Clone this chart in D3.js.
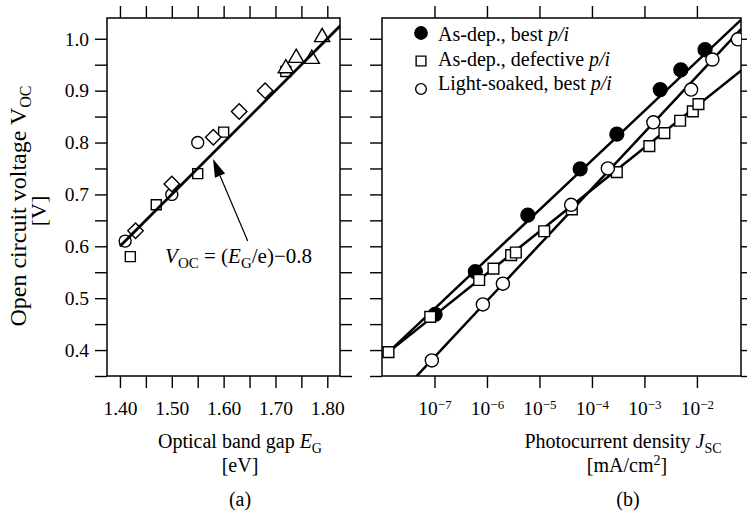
<!DOCTYPE html>
<html>
<head>
<meta charset="utf-8">
<script src="https://cdn.jsdelivr.net/npm/d3@7"></script>
<style>
  body { margin: 0; background: #fff; }
  text { font-family: "Liberation Serif", "Times New Roman", serif; fill: #000; }
</style>
</head>
<body>
<svg id="chart" width="747" height="512"></svg>
<script>
// (a) Voc vs optical band gap
var circEg = [1.41, 1.50, 1.55];
var circVoc = [0.61, 0.70, 0.80];
var sqEg = [1.42, 1.47, 1.55, 1.60, 1.72];
var sqVoc = [0.58, 0.68, 0.74, 0.82, 0.937];
var diaEg = [1.43, 1.50, 1.58, 1.63, 1.68];
var diaVoc = [0.63, 0.72, 0.81, 0.86, 0.90];
var triEg = [1.72, 1.74, 1.77, 1.79];
var triVoc = [0.943, 0.963, 0.961, 1.003];
var fitEg = [1.40, 1.83];          // Voc = Eg - 0.8
var fitOffset = 0.8;

// (b) Voc vs photocurrent density
var bestJ = [1.03e-7, 6.0e-7, 6.0e-6, 5.96e-5, 2.98e-4, 2.0e-3, 4.93e-3, 1.43e-2];
var bestVoc = [0.469, 0.551, 0.660, 0.749, 0.816, 0.902, 0.940, 0.979];
var defJ = [1.33e-8, 8.3e-8, 7.1e-7, 1.33e-6, 2.89e-6, 3.55e-6, 1.23e-5, 4.14e-5, 2.98e-4, 1.24e-3, 2.40e-3, 4.79e-3, 8.36e-3, 1.07e-2];
var defVoc = [0.396, 0.464, 0.535, 0.557, 0.583, 0.588, 0.629, 0.671, 0.743, 0.793, 0.818, 0.842, 0.860, 0.874];
var soakJ = [8.9e-8, 8.36e-7, 2.01e-6, 4.02e-5, 2.01e-4, 1.48e-3, 7.76e-3, 1.97e-2, 6.03e-2];
var soakVoc = [0.380, 0.488, 0.528, 0.680, 0.750, 0.839, 0.902, 0.960, 0.999];
var bestFitJ = [1.33e-8, 7.0e-2], bestFitVoc = [0.396, 1.037];
var defFitJ = [1.33e-8, 7.0e-2], defFitVoc = [0.396, 0.939];
var soakFitJ = [4.4e-8, 7.0e-2], soakFitVoc = [0.348, 1.019];

var yTicks = d3.range(7, 21).map(function(i) { return i * 0.05; });
var egTicks = d3.range(28, 37).map(function(i) { return i * 0.05; });
var jTicks = [1e-7, 1e-6, 1e-5, 1e-4, 1e-3, 1e-2];
var legendNames = ["As-dep., best ", "As-dep., defective ", "Light-soaked, best "];

var svg = d3.select("#chart");
var y = d3.scaleLinear().domain([0.35, 1.04]).range([376, 18]);
var xA = d3.scaleLinear().domain([1.375, 1.8245]).range([107, 340]);
var xB = d3.scaleLog().domain([1e-8, Math.pow(10, -1.16)]).range([382, 741]);

function zip(xs, ys) { return xs.map(function(d, i) { return [d, ys[i]]; }); }

// rich text: parts = [[text, style]] style: "i" italic, "sub", "sup"
function rich(sel, parts, subSize) {
  var shift = 0;
  parts.forEach(function(p) {
    var t = sel.append("tspan").text(p[0]);
    var want = (p[1] === "sub") ? 5 : (p[1] === "sup" ? -7 : 0);
    if (want !== shift) { t.attr("dy", want - shift); shift = want; }
    if (p[1] === "i") t.style("font-style", "italic");
    if (p[1] === "sub" || p[1] === "sup") t.style("font-size", subSize + "px");
  });
  return sel;
}

function frame(x0, x1, xScale, xTickVals, xFmt, yLabels) {
  var g = svg.append("g");
  var bottom = g.append("g").attr("transform", "translate(0,376)")
    .call(d3.axisBottom(xScale).tickValues(xTickVals).tickSize(12).tickPadding(13).tickFormat(xFmt));
  g.append("g").attr("transform", "translate(0,18)")
    .call(d3.axisTop(xScale).tickValues(xTickVals).tickSize(12).tickFormat(""));
  g.append("g").attr("transform", "translate(" + x0 + ",0)")
    .call(d3.axisLeft(y).tickValues(yTicks).tickSize(12).tickPadding(6)
      .tickFormat(function(d) { return yLabels && Math.round(d * 100) % 10 === 0 ? d.toFixed(1) : ""; }));
  g.append("g").attr("transform", "translate(" + x1 + ",0)")
    .call(d3.axisRight(y).tickValues(yTicks).tickSize(12).tickFormat(""));
  g.selectAll(".domain").remove();
  g.selectAll(".tick line").attr("stroke", "#000").attr("stroke-width", 1.4);
  g.selectAll(".tick text").attr("fill", "#000").style("font-size", "19.5px")
    .style("font-family", '"Liberation Serif", serif');
  g.append("rect").attr("x", x0).attr("y", 18).attr("width", x1 - x0).attr("height", 358)
    .attr("fill", "none").attr("stroke", "#000").attr("stroke-width", 1.5);
  return bottom;
}

function clip(id, x0, x1) {
  svg.append("clipPath").attr("id", id).append("rect")
    .attr("x", x0).attr("y", 18).attr("width", x1 - x0).attr("height", 358);
  return svg.append("g").attr("clip-path", "url(#" + id + ")");
}

function marks(g, pts, sx, type, size, fill, rot) {
  g.selectAll(null).data(pts).enter().append("path")
    .attr("d", d3.symbol().type(type).size(size))
    .attr("transform", function(d) {
      return "translate(" + sx(d[0]) + "," + y(d[1]) + ")" + (rot ? " rotate(" + rot + ")" : "");
    })
    .attr("fill", fill).attr("stroke", "#000").attr("stroke-width", 1.4);
}

var line = function(sx) {
  return d3.line().x(function(d) { return sx(d[0]); }).y(function(d) { return y(d[1]); });
};

// ---------- panel (a)
frame(107, 340, xA, egTicks, function(d) {
  return Math.round(d * 100) % 10 === 0 ? d.toFixed(2) : "";
}, true);

var pa = clip("clipA", 107, 340);
marks(pa, zip(sqEg, sqVoc), xA, d3.symbolSquare, 100, "#fff");
marks(pa, zip(circEg, circVoc), xA, d3.symbolCircle, 113, "#fff");
marks(pa, zip(diaEg, diaVoc), xA, d3.symbolSquare, 120, "#fff", 45);
marks(pa, zip(triEg, triVoc), xA, d3.symbolTriangle, 100, "#fff");
pa.append("path")
  .attr("d", line(xA)(fitEg.map(function(e) { return [e, e - fitOffset]; })))
  .attr("fill", "none").attr("stroke", "#000").attr("stroke-width", 2.8);

// arrow to the fit line
var tail = [xA(1.6465), y(0.610)], tip = [xA(1.5795), y(0.768)];
var ang = Math.atan2(tip[1] - tail[1], tip[0] - tail[0]);
var hl = 18, hw = 5.5;
var bx = tip[0] - hl * Math.cos(ang), by = tip[1] - hl * Math.sin(ang);
svg.append("line").attr("x1", tail[0]).attr("y1", tail[1]).attr("x2", bx).attr("y2", by)
  .attr("stroke", "#000").attr("stroke-width", 1.2);
svg.append("path").attr("d", "M" + tip + "L" + [bx - hw * Math.sin(ang), by + hw * Math.cos(ang)] +
  "L" + [bx + hw * Math.sin(ang), by - hw * Math.cos(ang)] + "Z").attr("fill", "#000");

rich(svg.append("text").attr("x", xA(1.487)).attr("y", y(0.5676)).style("font-size", "21px"),
  [["V", "i"], ["OC", "sub"], [" = (", ""], ["E", "i"], ["G", "sub"], ["/e)\u22120.8", ""]], 15);

// ---------- panel (b)
var bAxis = frame(382, 741, xB, jTicks, function() { return "10"; }, false);
bAxis.selectAll(".tick text").each(function(d) {
  d3.select(this).append("tspan").attr("dy", "-0.45em").style("font-size", "13px")
    .text("\u2212" + Math.round(-Math.log10(d)));
});

var pb = clip("clipB", 382, 741);
[[bestFitJ, bestFitVoc], [defFitJ, defFitVoc], [soakFitJ, soakFitVoc]].forEach(function(f) {
  pb.append("path").attr("d", line(xB)(zip(f[0], f[1])))
    .attr("fill", "none").attr("stroke", "#000").attr("stroke-width", 2.5);
});
marks(pb, zip(bestJ, bestVoc), xB, d3.symbolCircle, 150, "#000");
marks(pb, zip(defJ, defVoc), xB, d3.symbolSquare, 115, "#fff");
marks(pb, zip(soakJ, soakVoc), xB, d3.symbolCircle, 135, "#fff");

// legend
var legY = [33, 61, 89], legBase = [41, 66, 90];
var legSym = [[d3.symbolCircle, 120, "#000"], [d3.symbolSquare, 95, "#fff"], [d3.symbolCircle, 90, "#fff"]];
legendNames.forEach(function(name, i) {
  svg.append("path").attr("d", d3.symbol().type(legSym[i][0]).size(legSym[i][1]))
    .attr("transform", "translate(421," + legY[i] + ")")
    .attr("fill", legSym[i][2]).attr("stroke", "#000").attr("stroke-width", 1.4);
  rich(svg.append("text").attr("x", 438).attr("y", legBase[i]).style("font-size", "20px"),
    [[name, ""], ["p/i", "i"]], 14);
});

// ---------- axis titles
var yt = svg.append("text").attr("transform", "translate(26,206) rotate(-90)")
  .attr("text-anchor", "middle").style("font-size", "24px");
rich(yt, [["Open circuit voltage V", ""], ["OC", "sub"]], 16);
svg.append("text").attr("transform", "translate(46,211) rotate(-90)")
  .attr("text-anchor", "middle").style("font-size", "22px").text("[V]");

rich(svg.append("text").attr("x", 240).attr("y", 448).attr("text-anchor", "middle").style("font-size", "20px"),
  [["Optical band gap ", ""], ["E", "i"], ["G", "sub"]], 14);
svg.append("text").attr("x", 240).attr("y", 472).attr("text-anchor", "middle").style("font-size", "20px").text("[eV]");
svg.append("text").attr("x", 240).attr("y", 506).attr("text-anchor", "middle").style("font-size", "20px").text("(a)");

rich(svg.append("text").attr("x", 623).attr("y", 448).attr("text-anchor", "middle").style("font-size", "20px"),
  [["Photocurrent density ", ""], ["J", "i"], ["SC", "sub"]], 14);
rich(svg.append("text").attr("x", 627).attr("y", 472).attr("text-anchor", "middle").style("font-size", "20px"),
  [["[mA/cm", ""], ["2", "sup"], ["]", ""]], 14);
svg.append("text").attr("x", 628).attr("y", 506).attr("text-anchor", "middle").style("font-size", "20px").text("(b)");
</script>
</body>
</html>
